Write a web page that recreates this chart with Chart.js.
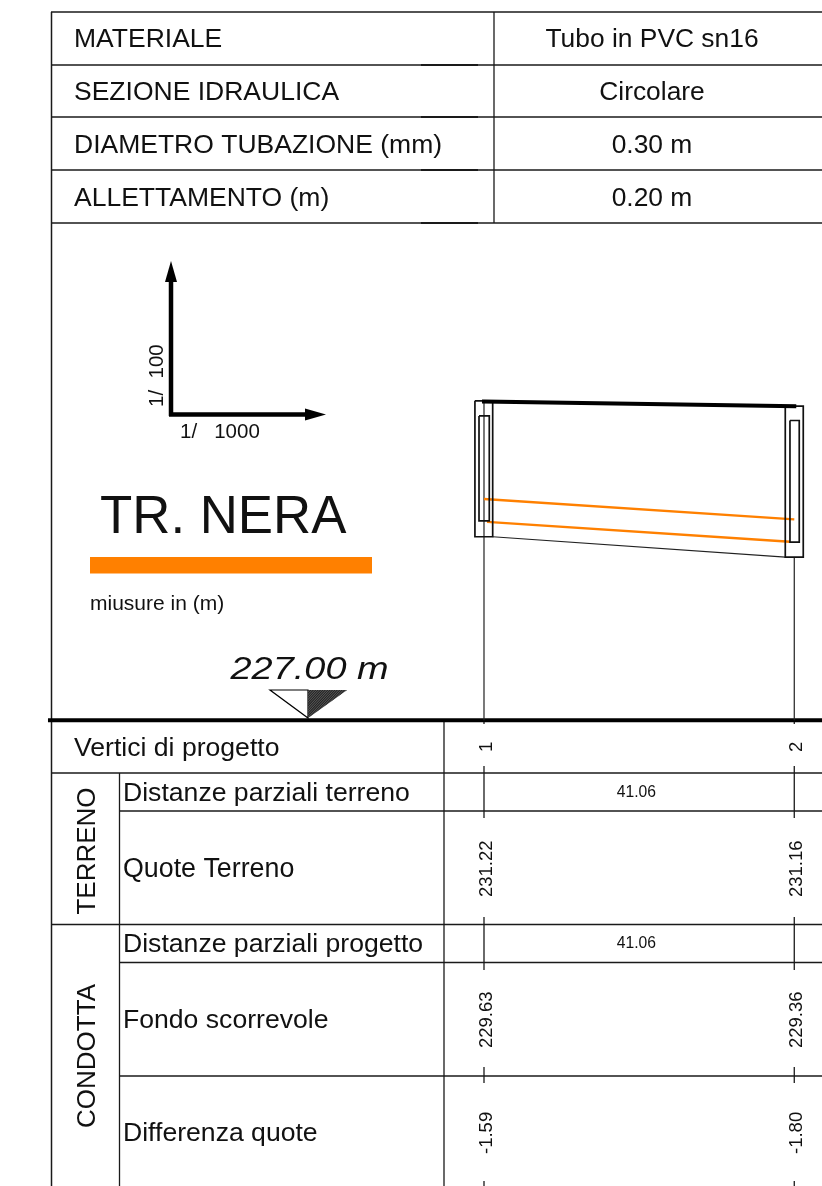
<!DOCTYPE html>
<html>
<head>
<meta charset="utf-8">
<title>TR. NERA</title>
<script src="https://cdn.jsdelivr.net/npm/chart.js@4"></script>
<style>
  html, body { margin: 0; padding: 0; background: #fff; }
  canvas { display: block; }
</style>
</head>
<body>
<canvas id="profile" width="822" height="1186"></canvas>
<script>
// profile data (metres)
const stations = [0, 41.06];
const stationLabels = ["1", "2"];
const partialDistances = ["41.06"];
const terrainLevels = [231.22, 231.16];
const invertLevels = [229.63, 229.36];
const levelDiffs = ["-1.59", "-1.80"];
const crownLevels = [229.93, 229.66];
const datumLevel = 227.00;

const invertX = [0.4, 40.49];
const invertDrawn = [229.627, 229.364];
const beddingX = [1.15, 39.87];
const beddingLevels = [229.43, 229.16];

// manholes, closed outlines
const manhole1OuterX = [-1.2, 1.15, 1.15, -1.2, -1.2];
const manhole1OuterY = [231.23, 231.23, 229.43, 229.43, 231.23];
const manhole1InnerX = [-0.66, 0.7, 0.7, -0.66, -0.66];
const manhole1InnerY = [231.03, 231.03, 229.64, 229.64, 231.03];
const manhole2OuterX = [39.87, 42.25, 42.25, 39.87, 39.87];
const manhole2OuterY = [231.16, 231.16, 229.16, 229.16, 231.16];
const manhole2InnerX = [40.49, 41.72, 41.72, 40.49, 40.49];
const manhole2InnerY = [230.97, 230.97, 229.36, 229.36, 230.97];

const headerLabels = ["MATERIALE", "SEZIONE IDRAULICA", "DIAMETRO TUBAZIONE (mm)", "ALLETTAMENTO (m)"];
const headerValues = ["Tubo in PVC sn16", "Circolare", "0.30 m", "0.20 m"];

const FONT = '"Liberation Sans", Arial, sans-serif';
const INK = "#1a1a1a";
const ORANGE = "#ff8000";

function pts(xs, ys) {
  return xs.map((x, i) => ({ x: x, y: ys[i] }));
}

function line(xs, ys, color, width, cap) {
  return {
    data: pts(xs, ys),
    showLine: true,
    borderColor: color,
    borderWidth: width,
    pointRadius: 0,
    borderCapStyle: cap || "butt",
    borderJoinStyle: "miter",
    tension: 0
  };
}

function seg(c, x1, y1, x2, y2, w) {
  c.lineWidth = w || 1.3;
  c.beginPath();
  c.moveTo(x1, y1);
  c.lineTo(x2, y2);
  c.stroke();
}

function text(c, str, x, y, size, align) {
  c.font = size + "px " + FONT;
  c.textAlign = align || "left";
  c.textBaseline = "alphabetic";
  c.fillText(str, x, y);
}

function vtext(c, str, x, y, size, align) {
  c.save();
  c.translate(x, y);
  c.rotate(-Math.PI / 2);
  text(c, str, 0, 0, size, align);
  c.restore();
}

const sheetPlugin = {
  id: "sheet",
  beforeDatasetsDraw(chart) {
    const c = chart.ctx;
    const xs = chart.scales.x;
    c.save();
    c.strokeStyle = INK;

    // top table
    [12, 65, 117, 170, 223].forEach((y) => {
      seg(c, 51, y, 822, y);
      if (y > 12) seg(c, 421, y, 478, y, 1.8);
    });
    seg(c, 494, 12, 494, 223);
    seg(c, 51.5, 12, 51.5, 1186, 1.5);

    // bottom table
    [773, 924.5].forEach((y) => seg(c, 51, y, 822, y));
    [811, 962.5, 1076].forEach((y) => seg(c, 119, y, 822, y));
    seg(c, 119.5, 773, 119.5, 1186);
    seg(c, 444, 720, 444, 1186);

    // station ticks across the table rows
    stations.forEach((s) => {
      const px = xs.getPixelForValue(s);
      [[720, 724], [766, 818], [917, 970], [1067, 1083], [1181, 1186]].forEach((r) => {
        seg(c, px, r[0], px, r[1]);
      });
    });

    // legend swatch
    c.fillStyle = ORANGE;
    c.fillRect(90, 557, 282, 16.5);
    c.restore();
  },
  afterDatasetsDraw(chart) {
    const c = chart.ctx;
    const xs = chart.scales.x;
    c.save();
    c.fillStyle = "#111";
    c.strokeStyle = "#000";

    headerLabels.forEach((t, i) => {
      const base = 47 + i * 53;
      text(c, t, 74, base, 26.5);
      text(c, headerValues[i], 652, base, 26.4, "center");
    });

    // scale arrows
    seg(c, 171, 278, 171, 416, 4.5);
    seg(c, 169, 414.5, 308, 414.5, 4.5);
    c.fillStyle = "#000";
    c.beginPath();
    c.moveTo(171, 261);
    c.lineTo(177, 282);
    c.lineTo(165, 282);
    c.closePath();
    c.fill();
    c.beginPath();
    c.moveTo(326, 414.5);
    c.lineTo(305, 408.5);
    c.lineTo(305, 420.5);
    c.closePath();
    c.fill();
    c.fillStyle = "#111";
    vtext(c, "1/  100", 163, 407, 20.5);
    text(c, "1/   1000", 180, 438, 20.5);

    text(c, "TR. NERA", 100, 533, 52.8);
    text(c, "miusure in (m)", 90, 610, 21);

    // datum mark
    c.save();
    c.translate(230.5, 679);
    c.scale(1.185, 1);
    c.font = "italic 32px " + FONT;
    c.textAlign = "left";
    c.fillText("227.00 m", 0, 0);
    c.restore();

    c.lineWidth = 1.2;
    c.fillStyle = "#fff";
    c.beginPath();
    c.moveTo(270, 690);
    c.lineTo(308, 690);
    c.lineTo(308, 718);
    c.closePath();
    c.fill();
    c.stroke();

    // hatched half
    c.save();
    c.fillStyle = "#666";
    c.beginPath();
    c.moveTo(308, 690);
    c.lineTo(347, 690);
    c.lineTo(308, 718);
    c.closePath();
    c.fill();
    c.clip();
    c.strokeStyle = "#222";
    for (let d = 0; d < 72; d += 2.4) {
      seg(c, 308 + d - 30, 720, 308 + d, 688, 1.1);
    }
    c.restore();

    // row titles
    c.fillStyle = "#111";
    text(c, "Vertici di progetto", 74, 756, 26.6);
    text(c, "Distanze parziali terreno", 123, 801, 26.6);
    text(c, "Quote Terreno", 123, 877, 26.8);
    text(c, "Distanze parziali progetto", 123, 952, 26.6);
    text(c, "Fondo scorrevole", 123, 1028, 26.6);
    text(c, "Differenza quote", 123, 1141, 26.6);
    vtext(c, "TERRENO", 95, 851, 26, "center");
    vtext(c, "CONDOTTA", 95, 1056, 26, "center");

    // row values
    stations.forEach((s, i) => {
      const px = xs.getPixelForValue(s) + 8;
      vtext(c, stationLabels[i], px, 752, 18.5);
      vtext(c, terrainLevels[i].toFixed(2), px, 897, 18.5);
      vtext(c, invertLevels[i].toFixed(2), px, 1048, 18.5);
      vtext(c, levelDiffs[i], px, 1154, 18.5);
    });
    const mid = xs.getPixelForValue((stations[0] + stations[1]) / 2) - 2.7;
    text(c, partialDistances[0], mid, 797, 15.7, "center");
    text(c, partialDistances[0], mid, 948, 15.7, "center");
    c.restore();
  }
};

new Chart(document.getElementById("profile"), {
  type: "scatter",
  data: {
    datasets: [
      line(stations, terrainLevels, "#000", 4, "square"),
      line(manhole1OuterX, manhole1OuterY, "#111", 1.7),
      line(manhole1InnerX, manhole1InnerY, "#111", 1.7),
      line(manhole2OuterX, manhole2OuterY, "#111", 1.7),
      line(manhole2InnerX, manhole2InnerY, "#111", 1.7),
      line(stations, crownLevels, ORANGE, 2.4),
      line(invertX, invertDrawn, ORANGE, 2.4),
      line(beddingX, beddingLevels, "#222", 1.1),
      line([stations[0], stations[0]], [terrainLevels[0], datumLevel], "#222", 1.2),
      line([stations[1], stations[1]], [beddingLevels[1], datumLevel], "#222", 1.2),
      line([-57.7, 44.73], [datumLevel, datumLevel], "#000", 4)
    ]
  },
  options: {
    responsive: false,
    animation: false,
    events: [],
    layout: { padding: 0 },
    plugins: { legend: { display: false }, tooltip: { enabled: false } },
    scales: {
      x: { type: "linear", display: false, min: -64.05, max: 44.73 },
      y: { type: "linear", display: false, min: 220.83, max: 236.54 }
    }
  },
  plugins: [sheetPlugin]
});
</script>
</body>
</html>
